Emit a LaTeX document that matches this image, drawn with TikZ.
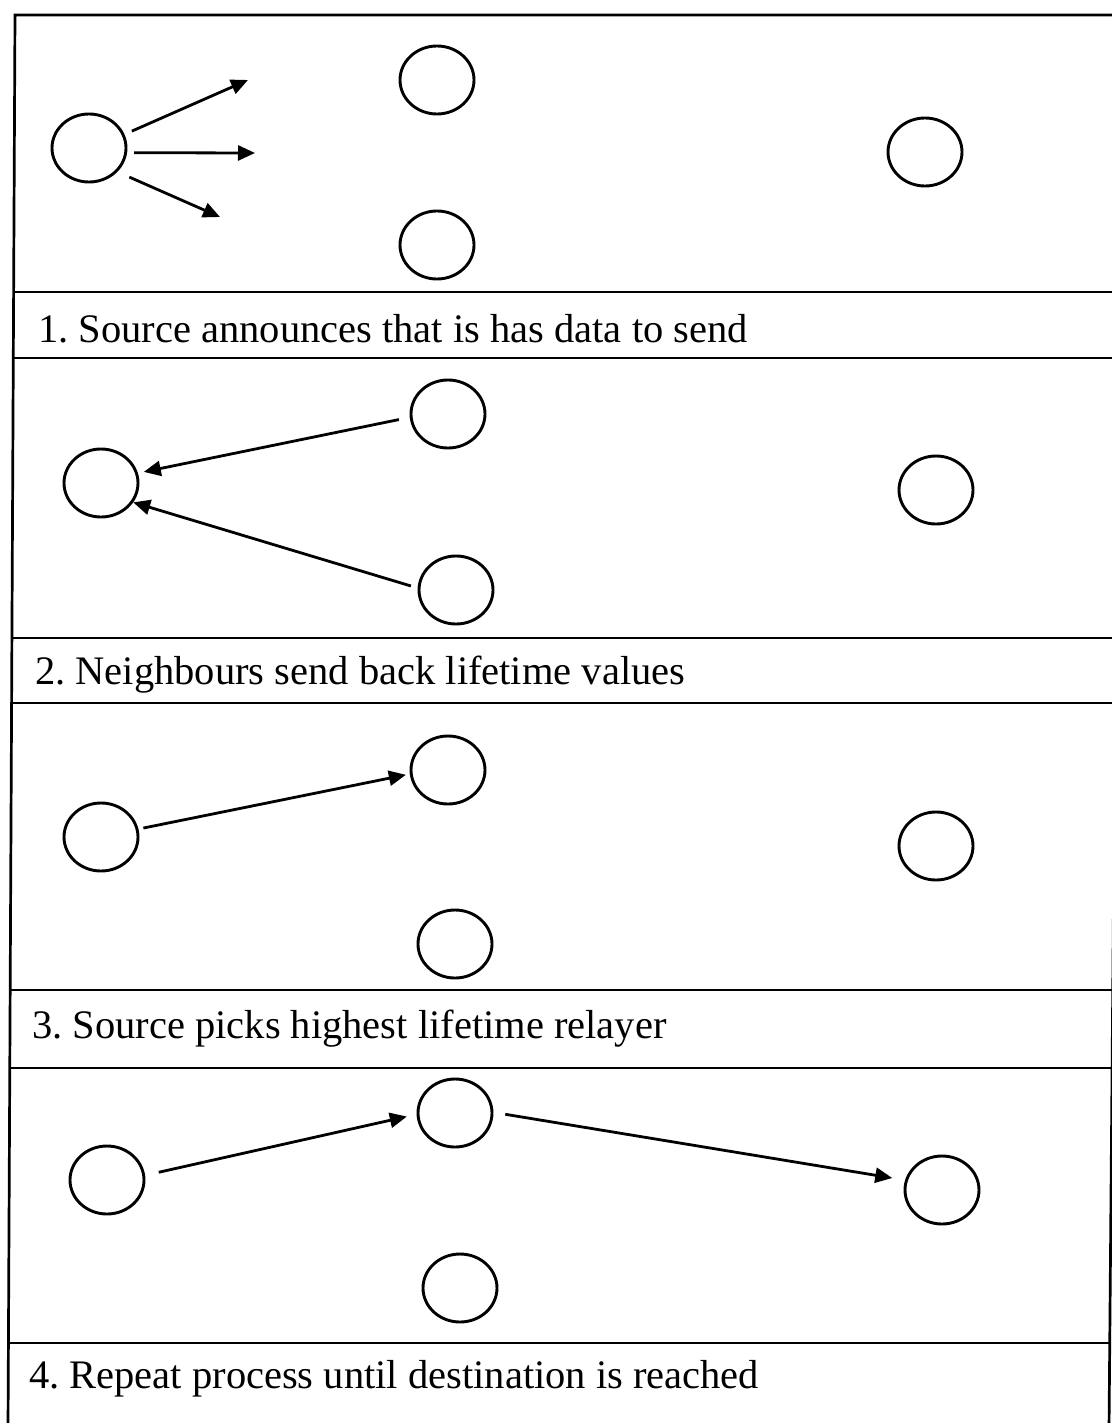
\documentclass[tikz,border=0pt]{standalone}
\usepackage{fontspec}
\setmainfont{Liberation Serif}
\usepackage{tikz}
\usetikzlibrary{arrows.meta,shapes.geometric}
\frenchspacing
\tikzset{
  mote/.style    = {draw, ellipse, line width=2.9pt, minimum width=74pt,
                    minimum height=68pt, inner sep=0pt},
  sig/.style     = {-{Triangle[length=17pt,width=15pt]}, line width=2.8pt},
  rule/.style    = {line width=2.7pt},
  caption/.style = {anchor=base west, inner sep=0pt,
                    font=\fontsize{40.5}{48}\selectfont},
}

\begin{document}
\begin{tikzpicture}[x=1pt,y=-1pt]
\useasboundingbox (0,0) rectangle (1111,1423);
% ---- frame (scan is slightly skewed) ----
\coordinate (tl) at (15,15);
\coordinate (bl) at (8,1430);
\coordinate (tr) at (1121,15);
\coordinate (br) at (1109,1430);
\draw[rule] (bl) -- (tl) -- (tr) -- (br);
\foreach \y in {292,358,638,703,990,1068,1343}
  \draw[rule] ({15-0.005*(\y-15)},\y) -- ({1121-0.0085*(\y-15)},\y);

% ---- step 1 ----
\node[mote] (s1) at (89,148) {};
\node[mote] (t1) at (437,80) {};
\node[mote] (b1) at (437,245) {};
\node[mote] (d1) at (925,152) {};
\coordinate (a1) at (248,80);
\coordinate (a2) at (255,153);
\coordinate (a3) at (220,217);
\draw[sig, shorten <=8pt] (s1.21) -- (a1);
\draw[sig, shorten <=7pt] (s1.-7) -- (a2);
\draw[sig, shorten <=13pt] (s1.-40) -- (a3);
\node[caption] (c1) at (38,342) {1. Source announces that is has data to send};

% ---- step 2 ----
\node[mote] (s2) at (101,483) {};
\node[mote] (t2) at (448,414) {};
\node[mote] (b2) at (456,590) {};
\node[mote] (d2) at (936,490) {};
\draw[sig, shorten <=11pt, shorten >=6pt] (t2.185) -- (s2.15);
\draw[sig, shorten <=7pt] (b2.177) -- (s2.-31);
\node[caption] (c2) at (35,684) {2. Neighbours send back lifetime values};

% ---- step 3 ----
\node[mote] (s3) at (101,837) {};
\node[mote] (t3) at (448,770) {};
\node[mote] (b3) at (455,944) {};
\node[mote] (d3) at (936,846) {};
\draw[sig, shorten <=5pt, shorten >=4pt] (s3.12) -- (t3.186);
\node[caption] (c3) at (32,1038) {3. Source picks highest lifetime relayer};

% ---- step 4 ----
\node[mote] (s4) at (107,1180) {};
\node[mote] (t4) at (455,1113) {};
\node[mote] (b4) at (460,1288) {};
\node[mote] (d4) at (942,1190) {};
\draw[sig, shorten <=14pt, shorten >=10pt] (s4.7) -- (t4.182);
\draw[sig, shorten <=12pt, shorten >=13pt] (t4.1) -- (d4.165);
\node[caption] (c4) at (29,1388) {4. Repeat process until destination is reached};
\end{tikzpicture}
\end{document}
